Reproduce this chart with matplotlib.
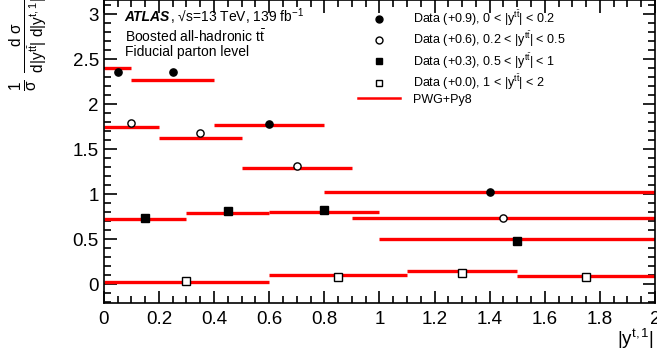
import matplotlib
matplotlib.use('Agg')
import matplotlib.pyplot as plt
from matplotlib.ticker import MultipleLocator
from matplotlib.lines import Line2D

plt.rcParams['font.family'] = ['Liberation Sans', 'DejaVu Sans']
plt.rcParams['mathtext.fontset'] = 'custom'
plt.rcParams['mathtext.rm'] = 'Liberation Sans'
plt.rcParams['mathtext.it'] = 'Liberation Sans:italic'
plt.rcParams['mathtext.bf'] = 'Liberation Sans:bold'

# bin edges, data (already offset) and prediction for each |y^tt| slice
edges_1 = [0, 0.1, 0.4, 0.8, 2.0]
data_1 = [2.36, 2.36, 1.78, 1.02]
pred_1 = [2.40, 2.27, 1.77, 1.02]

edges_2 = [0, 0.2, 0.5, 0.9, 2.0]
data_2 = [1.79, 1.68, 1.31, 0.74]
pred_2 = [1.75, 1.62, 1.29, 0.73]

edges_3 = [0, 0.3, 0.6, 1.0, 2.0]
data_3 = [0.74, 0.81, 0.82, 0.48]
pred_3 = [0.72, 0.79, 0.80, 0.50]

edges_4 = [0, 0.6, 1.1, 1.5, 2.0]
data_4 = [0.03, 0.08, 0.12, 0.08]
pred_4 = [0.02, 0.10, 0.14, 0.09]

labels = [r'Data (+0.9), 0 < |y$^{\mathrm{t\bar{t}}}$| < 0.2',
          r'Data (+0.6), 0.2 < |y$^{\mathrm{t\bar{t}}}$| < 0.5',
          r'Data (+0.3), 0.5 < |y$^{\mathrm{t\bar{t}}}$| < 1',
          r'Data (+0.0), 1 < |y$^{\mathrm{t\bar{t}}}$| < 2']

fig = plt.figure(figsize=(6.57, 3.56), dpi=100)
ax = fig.add_axes([0.158, 0.149, 0.839, 0.851])

series = [(edges_1, data_1, pred_1, 'o', 'black'),
          (edges_2, data_2, pred_2, 'o', 'white'),
          (edges_3, data_3, pred_3, 's', 'black'),
          (edges_4, data_4, pred_4, 's', 'white')]

for edges, data, pred, mk, fc in series:
    for i in range(len(pred)):
        ax.plot([edges[i], edges[i + 1]], [pred[i], pred[i]], color='red', lw=2.4,
                solid_capstyle='butt', zorder=2)
    centers = [(edges[i] + edges[i + 1]) / 2 for i in range(len(data))]
    ax.plot(centers, data, linestyle='none', marker=mk, markersize=5.2,
            markerfacecolor=fc, markeredgecolor='black', markeredgewidth=1.0, zorder=3)

ax.set_xlim(0, 2)
ax.set_ylim(-0.21, 3.16)
ax.set_xticks([0, 0.2, 0.4, 0.6, 0.8, 1, 1.2, 1.4, 1.6, 1.8, 2])
ax.set_xticklabels(['0', '0.2', '0.4', '0.6', '0.8', '1', '1.2', '1.4', '1.6', '1.8', '2'])
ax.set_yticks([0, 0.5, 1, 1.5, 2, 2.5, 3])
ax.set_yticklabels(['0', '0.5', '1', '1.5', '2', '2.5', '3'])
ax.xaxis.set_minor_locator(MultipleLocator(0.05))
ax.yaxis.set_minor_locator(MultipleLocator(0.1))
ax.tick_params(which='both', direction='in', top=True, right=True, labelsize=13.5, width=1.2)
ax.tick_params(which='major', length=9)
ax.tick_params(which='minor', length=5)
ax.tick_params(axis='x', pad=6)
for s in ax.spines.values():
    s.set_linewidth(1.2)

fig.text(0.995, 0.015, r'|y$^{\mathrm{t,1}}$|', fontsize=13.5, ha='right', va='bottom')
fig.text(0.043, 0.745,
         r'$\mathrm{\frac{1}{\sigma}\ \frac{d\ \sigma}{d|y^{t\bar{t}}|\ d|y^{t,1}|}}$',
         rotation=90, fontsize=16, ha='center', va='bottom')

t_atlas = ax.text(0.038, 0.945, 'ATLAS', transform=ax.transAxes, fontsize=10,
                  fontweight='bold', fontstyle='italic', va='center')
fig.canvas.draw()
bb = t_atlas.get_window_extent().transformed(ax.transAxes.inverted())
ax.text(bb.x1, 0.945, ', \u221as=13 TeV, 139 fb$^{-1}$', transform=ax.transAxes,
        fontsize=10, va='center')
ax.text(0.038, 0.878, r'Boosted all-hadronic t$\mathrm{\bar{t}}$', transform=ax.transAxes,
        fontsize=10, va='center')
ax.text(0.038, 0.83, 'Fiducial parton level', transform=ax.transAxes,
        fontsize=10, va='center')

handles = [Line2D([], [], ls='none', marker=mk, markersize=5, markerfacecolor=fc,
                  markeredgecolor='black', markeredgewidth=1.0)
           for _, _, _, mk, fc in series]
handles.append(Line2D([], [], color='red', lw=1.8))
leg = ax.legend(handles, labels + ['PWG+Py8'], loc='upper left',
                bbox_to_anchor=(0.44, 1.01), frameon=False, fontsize=9,
                handlelength=3.4, handletextpad=1.0, labelspacing=0.12)

fig.savefig('out.png', dpi=100)
